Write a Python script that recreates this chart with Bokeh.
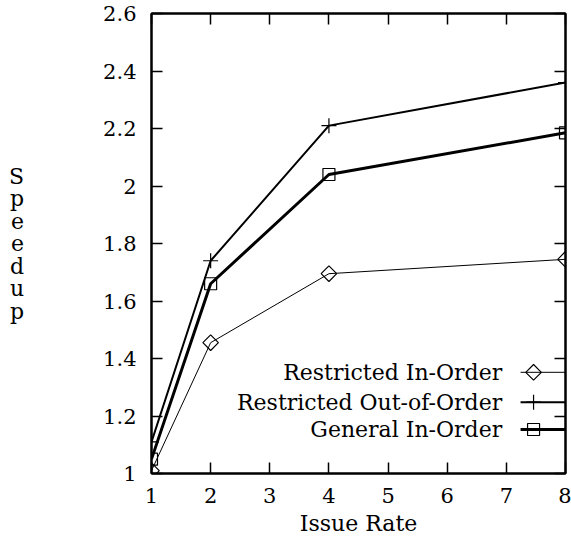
from bokeh.plotting import figure
from bokeh.models import LinearAxis, FixedTicker, CustomJSTickFormatter, Label, Range1d
from bokeh.embed import file_html
from bokeh.resources import INLINE
import math

# ---- data ----
issue_rate = [1, 2, 4, 8]
restricted_in_order = [1.01, 1.455, 1.695, 1.745]
restricted_out_of_order = [1.11, 1.74, 2.21, 2.36]
general_in_order = [1.05, 1.66, 2.04, 2.185]

x_ticks = [1, 2, 3, 4, 5, 6, 7, 8]
y_ticks = [1.0, 1.2, 1.4, 1.6, 1.8, 2.0, 2.2, 2.4, 2.6]

series_names = ["Restricted In-Order", "Restricted Out-of-Order", "General In-Order"]
x_label = "Issue Rate"
y_label = "Speedup"

FONT = "DejaVu Serif"
FS_TICK = "21px"
FS = "22px"

p = figure(width=571, height=545, output_backend="svg", toolbar_location=None,
           x_range=Range1d(1, 8), y_range=Range1d(1, 2.6),
           min_border_left=151, min_border_right=6, min_border_top=13, min_border_bottom=72,
           x_axis_location=None, y_axis_location=None)
p.xgrid.visible = False
p.ygrid.visible = False
p.outline_line_color = "black"
p.outline_line_width = 2
p.background_fill_color = "white"
p.border_fill_color = "white"

fmt = CustomJSTickFormatter(code="return String(Math.round(tick*10)/10);")
blank_fmt = CustomJSTickFormatter(code="return '';")

def make_axis(kind, labels):
    ax = LinearAxis()
    ax.ticker = FixedTicker(ticks=x_ticks if kind == "x" else y_ticks)
    ax.formatter = fmt if labels else blank_fmt
    ax.major_tick_in = 11
    ax.major_tick_out = 0
    ax.minor_tick_in = 0
    ax.minor_tick_out = 0
    ax.major_tick_line_width = 1.5
    ax.axis_line_width = 2
    ax.major_label_text_font = FONT
    ax.major_label_text_font_size = FS_TICK
    ax.major_label_text_color = "black"
    if not labels:
        ax.major_label_standoff = 0
    return ax

bottom = make_axis("x", True)
bottom.major_label_standoff = 14
bottom.axis_label = x_label
bottom.axis_label_text_font = FONT
bottom.axis_label_text_font_size = FS
bottom.axis_label_text_font_style = "normal"
bottom.axis_label_text_color = "black"
bottom.axis_label_standoff = 5
p.add_layout(bottom, "below")

left = make_axis("y", True)
left.major_label_standoff = 15
left.axis_label = "\n".join(list(y_label))
left.axis_label_orientation = "horizontal"
left.axis_label_text_font = FONT
left.axis_label_text_font_size = FS
left.axis_label_text_font_style = "normal"
left.axis_label_text_color = "black"
left.axis_label_text_line_height = 0.9
left.axis_label_standoff = 76
p.add_layout(left, "left")

p.add_layout(make_axis("x", False), "above")
p.add_layout(make_axis("y", False), "right")

# ---- series ----
p.line(issue_rate, restricted_in_order, line_color="black", line_width=1)
p.scatter(issue_rate, restricted_in_order, marker="square", angle=math.pi / 4, size=11,
          fill_alpha=0, line_color="black", line_width=1.2)

p.line(issue_rate, restricted_out_of_order, line_color="black", line_width=2)
p.scatter(issue_rate, restricted_out_of_order, marker="cross", size=15,
          line_color="black", line_width=1.2)

p.line(issue_rate, general_in_order, line_color="black", line_width=3)
p.scatter(issue_rate, general_in_order, marker="square", size=12,
          fill_alpha=0, line_color="black", line_width=1.2)

# ---- legend (label left, sample right) ----
leg_text_x = 6.93
leg_x0, leg_x1, leg_mx = 7.24, 8.0, 7.46
leg_y = [1.352, 1.248, 1.153]
leg_widths = [1, 2, 3]
leg_markers = [("square", math.pi / 4, 11), ("cross", 0, 15), ("square", 0, 12)]
for name, y, w, (mk, ang, sz) in zip(series_names, leg_y, leg_widths, leg_markers):
    p.add_layout(Label(x=leg_text_x, y=y, text=name, text_align="right", text_baseline="middle",
                       text_font=FONT, text_font_size=FS, text_color="black"))
    p.line([leg_x0, leg_x1], [y, y], line_color="black", line_width=w)
    p.scatter([leg_mx], [y], marker=mk, angle=ang, size=sz, fill_alpha=0,
              line_color="black", line_width=1.2)

open("out.html", "w").write(file_html(p, INLINE))
